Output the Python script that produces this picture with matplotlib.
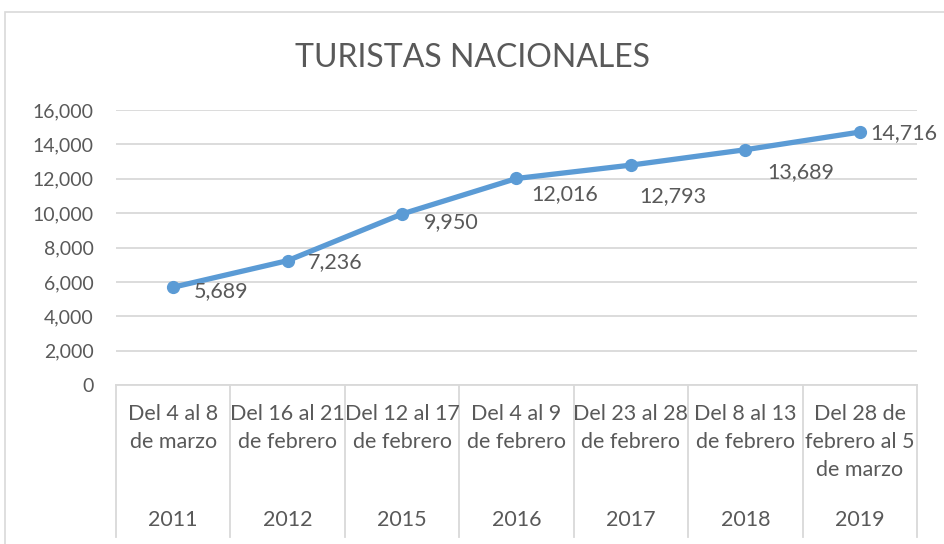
import matplotlib.pyplot as plt
from matplotlib.patches import Rectangle
from matplotlib.transforms import blended_transform_factory

# data
periods = ["Del 4 al 8\nde marzo", "Del 16 al 21\nde febrero", "Del 12 al 17\nde febrero",
           "Del 4 al 9\nde febrero", "Del 23 al 28\nde febrero", "Del 8 al 13\nde febrero",
           "Del 28 de\nfebrero al 5\nde marzo"]
years = ["2011", "2012", "2015", "2016", "2017", "2018", "2019"]
tourists = [5689, 7236, 9950, 12016, 12793, 13689, 14716]
yticks = list(range(0, 16001, 2000))

plt.rcParams['font.family'] = ['Lato', 'DejaVu Sans']
txt = '#595959'
grid = '#d9d9d9'
blue = '#5b9bd5'

W, H = 945, 544
fig = plt.figure(figsize=(W / 100, H / 100), dpi=100)
# chart border
fig.patches.append(Rectangle((5 / W, -0.1), 1.1, 1 - 12 / H + 0.1, transform=fig.transFigure,
                             fill=False, edgecolor=grid, linewidth=1.2))

ax = fig.add_axes([116 / W, 1 - 385 / H, (917 - 116) / W, 275 / H])
x = list(range(len(tourists)))
ax.plot(x, tourists, color=blue, linewidth=3.8, marker='o', markersize=8.5, zorder=3)

ax.set_xlim(-0.5, len(x) - 0.5)
ax.set_ylim(0, 16000)
ax.set_yticks(yticks)
ax.set_yticklabels([f"{v:,}" for v in yticks], color=txt, fontsize=14)
ax.tick_params(axis='y', length=0, pad=16)
ax.set_xticks([])
ax.grid(axis='y', color=grid, linewidth=1.3)
ax.set_axisbelow(True)
for s in ['top', 'right', 'left']:
    ax.spines[s].set_visible(False)
ax.spines['bottom'].set_color(grid)
ax.spines['bottom'].set_linewidth(1.3)

# data labels (pixel offsets from each point)
offsets = [(21, -4), (20, -1), (22, -8), (15, -16), (8, -31), (22, -22), (11, -1)]
for xi, v, (dx, dy) in zip(x, tourists, offsets):
    ax.annotate(f"{v:,}", (xi, v), xytext=(dx, dy), textcoords='offset pixels',
                ha='left', va='center', fontsize=15.5, color=txt)

# multi-level category axis
tr = blended_transform_factory(ax.transData, ax.transAxes)
bottom = -(537 - 385) / 275
for b in [i - 0.5 for i in range(len(x) + 1)]:
    ax.plot([b, b], [0, bottom], transform=tr, color=grid, linewidth=1.3, clip_on=False)
for xi, p, yr in zip(x, periods, years):
    ax.text(xi, -(404 - 385) / 275, p, transform=tr, ha='center', va='top',
            fontsize=15.5, color=txt, linespacing=1.5)
    ax.text(xi, -(520 - 385) / 275, yr, transform=tr, ha='center', va='center',
            fontsize=15.5, color=txt)

fig.text(0.5, 1 - 58 / H, "TURISTAS NACIONALES", ha='center', va='center',
         fontsize=23, color=txt)

fig.savefig("out.png", dpi=100)
